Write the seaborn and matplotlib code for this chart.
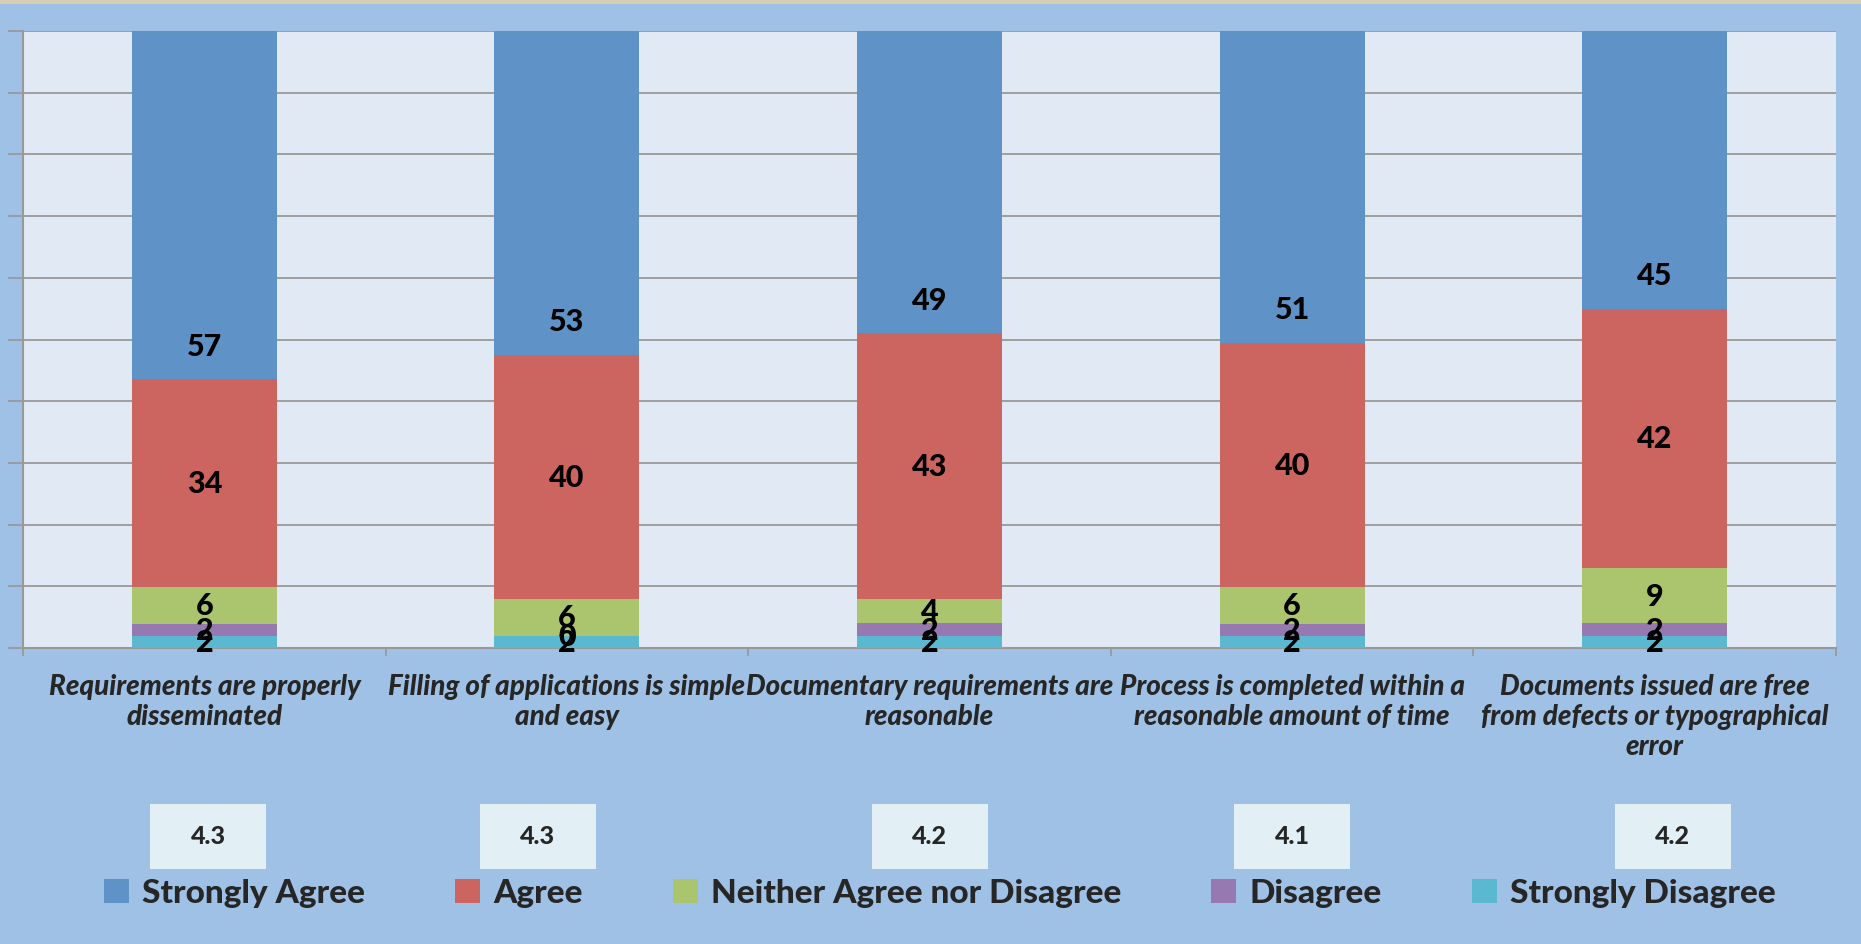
import numpy as np
import pandas as pd
import matplotlib.pyplot as plt
import matplotlib.transforms as mtransforms
from matplotlib.patches import Patch, Rectangle
import seaborn as sns

# data
categories = ['Requirements are properly\ndisseminated',
              'Filling of applications is simple\nand easy',
              'Documentary requirements are\nreasonable',
              'Process is completed within a\nreasonable amount of time',
              'Documents issued are free\nfrom defects or typographical\nerror']
levels = ['Strongly Agree', 'Agree', 'Neither Agree nor Disagree', 'Disagree', 'Strongly Disagree']
strongly_agree = [57, 53, 49, 51, 45]
agree = [34, 40, 43, 40, 42]
neither = [6, 6, 4, 6, 9]
disagree = [2, 0, 2, 2, 2]
strongly_disagree = [2, 2, 2, 2, 2]
averages = ['4.3', '4.3', '4.2', '4.1', '4.2']

colors = {'Strongly Agree': '#5F93C7', 'Agree': '#CC6560',
          'Neither Agree nor Disagree': '#ABC46E', 'Disagree': '#9579B0',
          'Strongly Disagree': '#5BB8D1'}

sns.set_style('white')
plt.rcParams['font.family'] = ['Lato', 'DejaVu Sans']
W = 'black'

counts = pd.DataFrame({'Strongly Agree': strongly_agree, 'Agree': agree,
                       'Neither Agree nor Disagree': neither, 'Disagree': disagree,
                       'Strongly Disagree': strongly_disagree}, index=categories)
# 100% stacked: scale each row to its total
pct = counts.div(counts.sum(axis=1), axis=0) * 100
bottom_up = levels[::-1]
cum = pct[bottom_up].cumsum(axis=1)

fig = plt.figure(figsize=(18.61, 9.45), dpi=100, facecolor='#9FC1E6')
ax = fig.add_axes([0.0124, 0.3132, 0.9742, 0.6529])
ax.set_facecolor('#E1E9F5')

# draw tallest cumulative first so lower segments sit on top
for lvl in levels:
    sns.barplot(x=categories, y=cum[lvl].values, color=colors[lvl], width=0.4,
                saturation=1, linewidth=0, ax=ax, zorder=3)

# segment labels (top segment label sits near its base, as in the original)
for i, cat in enumerate(categories):
    for lvl in bottom_up:
        top = cum.loc[cat, lvl]
        base = top - pct.loc[cat, lvl]
        y = base + 5.4 if lvl == 'Strongly Agree' else (base + top) / 2
        ax.text(i, y, str(counts.loc[cat, lvl]), ha='center', va='center',
                fontsize=22, fontweight=W, color='black', zorder=5)

ax.set_xlim(-0.5, len(categories) - 0.5)
ax.set_ylim(0, 100)
ax.set_yticks(np.arange(0, 101, 10))
ax.set_yticklabels([])
ax.yaxis.grid(True, color='#999999', linewidth=1.3, zorder=0)
ax.set_axisbelow(True)
ax.tick_params(axis='y', length=11, width=1.3, color='#999999', left=True)

ax.set_xticks(range(len(categories)))
ax.set_xticklabels(categories, fontsize=20, fontstyle='italic', fontweight=W,
                   linespacing=1.2)
ax.tick_params(axis='x', length=0, pad=18)
ax.set_xticks(np.arange(-0.5, len(categories), 1), minor=True)
ax.tick_params(axis='x', which='minor', length=6, width=1.3, color='#999999', bottom=True)
ax.set_xlabel('')

for side in ['top', 'right']:
    ax.spines[side].set_visible(False)
for side in ['left', 'bottom']:
    ax.spines[side].set_color('#999999')
    ax.spines[side].set_linewidth(1.5)

# average score boxes under each category
box_offsets = [0.01, -0.08, 0.0, 0.0, 0.05]
trans = mtransforms.blended_transform_factory(ax.transData, fig.transFigure)
for i, avg in enumerate(averages):
    cx = i + box_offsets[i]
    ax.add_patch(Rectangle((cx - 0.16, 1 - 870 / 945), 0.32, 65 / 945, transform=trans,
                           facecolor='#E2F0F6', edgecolor='none', clip_on=False))
    ax.text(cx, 1 - 837 / 945, avg, transform=trans, ha='center', va='center',
            fontsize=18, fontweight=W)

handles = [Patch(facecolor=colors[l], edgecolor='none') for l in levels]
leg = fig.legend(handles, levels, loc='center', bbox_to_anchor=(0.505, 1 - 894 / 945),
                 ncol=5, frameon=False, handlelength=0.75, handleheight=0.75,
                 handletextpad=0.4, columnspacing=2.7,
                 prop={'family': 'Lato', 'weight': W, 'size': 24})

# thin textured band along the top edge
fig.add_artist(Rectangle((0, 1 - 5 / 945), 1, 5 / 945, transform=fig.transFigure,
                         facecolor='#D8CEB2', edgecolor='none'))

fig.savefig('out.png', dpi=100, facecolor=fig.get_facecolor())
